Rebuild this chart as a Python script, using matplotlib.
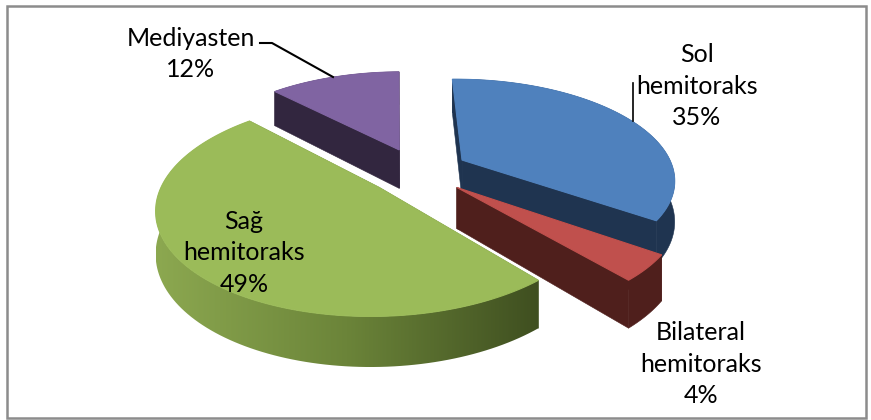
import numpy as np
import matplotlib
matplotlib.use("Agg")
import matplotlib.pyplot as plt
from matplotlib.colors import LinearSegmentedColormap
from matplotlib.patches import Polygon, Rectangle

plt.rcParams["font.family"] = ["Lato", "DejaVu Sans"]

categories = ["Sol\nhemitoraks", "Bilateral\nhemitoraks", "Sağ\nhemitoraks", "Mediyasten"]
values = [35, 4, 49, 12]

top_colors = ["#4f81bd", "#c0504d", "#9bbb59", "#8064a2"]
wall_colors = ["#1f3450", "#4f1f1c", "#3f4f20", "#32263f"]
label_pos = [(697, 86), (701, 364), (244, 253), (191, 54)]

# pie projected by hand, matplotlib has no 3d pie
cx, cy = 418, 171
rx, ry = 212, 99
persp = 0.18
explode = 0.24
depth = 40
start = -1.0


def project(u, v, drop=0.0):
    w = 1 + persp * v
    return np.column_stack([cx + rx * u / w, cy - ry * v / w + drop / w])


fig = plt.figure(figsize=(8.71, 4.2), dpi=100)
ax = fig.add_axes([0, 0, 1, 1])
ax.axis("off")

ax.add_patch(Rectangle((7, 6), 859, 412, fill=False, edgecolor="#8c8c8c", lw=1.8))

green_cmap = LinearSegmentedColormap.from_list("green_wall", ["#8ca850", "#6b8439", "#3f4f20"])
edges = start + np.cumsum([0] + values) * 3.6

# back to front: purple, blue, red, green
for z, i in enumerate([3, 0, 1, 2]):
    a0, a1 = np.radians(edges[i]), np.radians(edges[i + 1])
    mid = (a0 + a1) / 2
    th = np.linspace(a0, a1, 120)
    u = np.r_[explode * np.sin(mid), explode * np.sin(mid) + np.sin(th)]
    v = np.r_[explode * np.cos(mid), explode * np.cos(mid) + np.cos(th)]
    top = project(u, v)
    low = project(u, v, depth)
    zb = 2 + z * 3

    for k in [1, len(u) - 1]:
        quad = [top[0], top[k], low[k], low[0]]
        ax.add_patch(Polygon(quad, closed=True, facecolor=wall_colors[i], edgecolor=wall_colors[i],
                             lw=0.4, zorder=zb))

    wall = Polygon(np.vstack([top[1:], low[1:][::-1]]), closed=True, facecolor=wall_colors[i],
                   edgecolor=wall_colors[i], lw=0.4, zorder=zb + 0.5)
    ax.add_patch(wall)
    if i == 2:
        # outer wall of the big slice fades to dark on the right
        wall.set_facecolor("none")
        wall.set_edgecolor("none")
        xmin, xmax = top[1:, 0].min(), top[1:, 0].max()
        img = ax.imshow(np.linspace(0, 1, 256).reshape(1, -1), cmap=green_cmap, aspect="auto",
                        extent=(xmin, xmax, 420, 0), zorder=zb + 0.5)
        img.set_clip_path(wall)

    ax.add_patch(Polygon(top, closed=True, facecolor=top_colors[i], edgecolor=top_colors[i],
                         lw=0.8, zorder=zb + 1))

ax.set_xlim(0, 871)
ax.set_ylim(420, 0)

# leader lines
ax.plot([260, 272, 333], [43, 43, 77], color="black", lw=1.5, zorder=30)
ax.plot([633, 633], [83, 121], color="black", lw=1.2, zorder=30)

for name, val, (x, y) in zip(categories, values, label_pos):
    ax.text(x, y, f"{name}\n{val}%", ha="center", va="center", fontsize=18,
            linespacing=1.44, color="black", zorder=40)

fig.savefig("out.png", dpi=100)
